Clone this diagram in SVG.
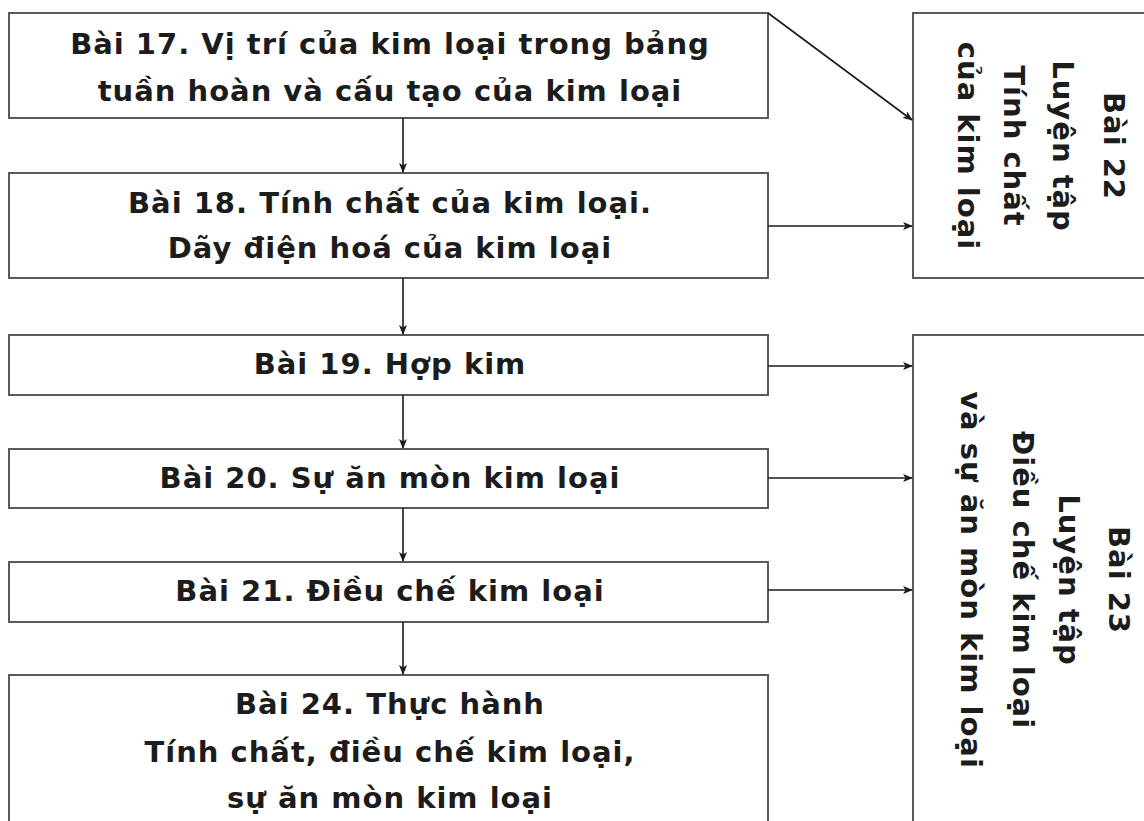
<svg xmlns="http://www.w3.org/2000/svg" width="1144" height="821" viewBox="0 0 1144 821">
<style>
.box{fill:#ffffff;stroke:#5a5a5a;stroke-width:2}
.t{font-family:"DejaVu Sans","Liberation Sans",sans-serif;font-weight:bold;font-size:29px;letter-spacing:1px;fill:#1c1c1c;text-anchor:middle}
.c{stroke:#1a1a1a;stroke-width:1.6;fill:none;marker-end:url(#ah)}
</style>
<defs>
<marker id="ah" viewBox="0 0 10 8" refX="9" refY="4" markerWidth="10" markerHeight="8" markerUnits="userSpaceOnUse" orient="auto">
<path d="M0,0 L10,4 L0,8 L2.5,4 z" fill="#1a1a1a"/>
</marker>
</defs>
<rect width="1144" height="821" fill="#ffffff"/>
<g id="bai17">
<rect class="box" x="9" y="13" width="759" height="105"/>
<text class="t" x="390" y="54">Bài 17. Vị trí của kim loại trong bảng</text>
<text class="t" x="390" y="101">tuần hoàn và cấu tạo của kim loại</text>
</g>
<g id="bai18">
<rect class="box" x="9" y="173" width="759" height="105"/>
<text class="t" x="390" y="213">Bài 18. Tính chất của kim loại.</text>
<text class="t" x="390" y="258">Dãy điện hoá của kim loại</text>
</g>
<g id="bai19">
<rect class="box" x="9" y="335" width="759" height="60"/>
<text class="t" x="390" y="374">Bài 19. Hợp kim</text>
</g>
<g id="bai20">
<rect class="box" x="9" y="449" width="759" height="59"/>
<text class="t" x="390" y="488">Bài 20. Sự ăn mòn kim loại</text>
</g>
<g id="bai21">
<rect class="box" x="9" y="562" width="759" height="60"/>
<text class="t" x="390" y="601">Bài 21. Điều chế kim loại</text>
</g>
<g id="bai24">
<rect class="box" x="9" y="675" width="759" height="160"/>
<text class="t" x="390" y="714">Bài 24. Thực hành</text>
<text class="t" x="390" y="762">Tính chất, điều chế kim loại,</text>
<text class="t" x="390" y="808">sự ăn mòn kim loại</text>
</g>
<g id="bai22">
<rect class="box" x="913" y="13" width="250" height="265"/>
<g transform="translate(0,146) rotate(90)">
<text class="t" x="0" y="-1104">Bài 22</text>
<text class="t" x="0" y="-1053">Luyện tập</text>
<text class="t" x="0" y="-1004">Tính chất</text>
<text class="t" x="0" y="-958">của kim loại</text>
</g>
</g>
<g id="bai23">
<rect class="box" x="913" y="335" width="250" height="500"/>
<g transform="translate(0,580) rotate(90)">
<text class="t" x="0" y="-1109">Bài 23</text>
<text class="t" x="0" y="-1059">Luyện tập</text>
<text class="t" x="0" y="-1013">Điều chế kim loại</text>
<text class="t" x="0" y="-961">và sự ăn mòn kim loại</text>
</g>
</g>
<g id="connectors">
<line class="c" x1="403" y1="118" x2="403" y2="172"/>
<line class="c" x1="403" y1="278" x2="403" y2="334"/>
<line class="c" x1="403" y1="395" x2="403" y2="448"/>
<line class="c" x1="403" y1="508" x2="403" y2="561"/>
<line class="c" x1="403" y1="622" x2="403" y2="674"/>
<line class="c" x1="768" y1="13" x2="912" y2="120"/>
<line class="c" x1="768" y1="226" x2="912" y2="226"/>
<line class="c" x1="768" y1="366" x2="912" y2="366"/>
<line class="c" x1="768" y1="478" x2="912" y2="478"/>
<line class="c" x1="768" y1="590" x2="912" y2="590"/>
</g>
</svg>
